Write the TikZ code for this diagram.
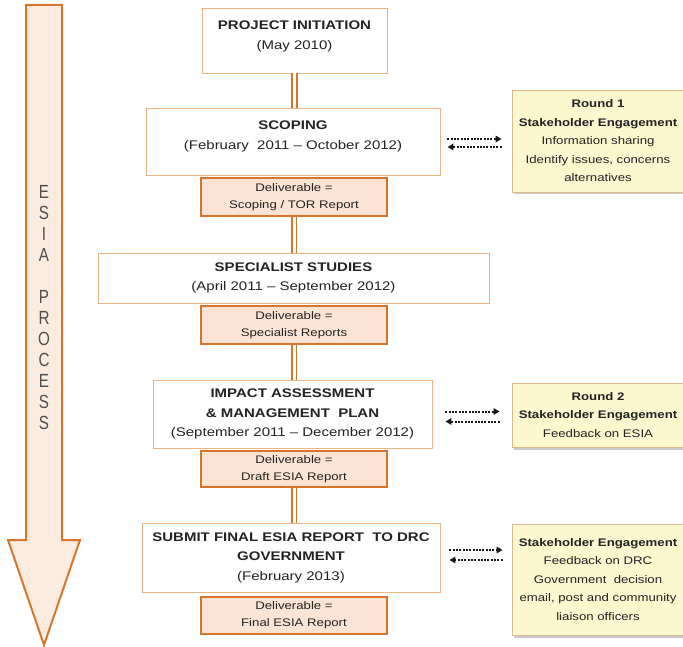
\documentclass[tikz,border=0pt]{standalone}
\usepackage{fontspec}
\setmainfont{Liberation Sans}[FakeStretch=1.2]
\newfontfamily\esiafont{Liberation Sans}[FakeStretch=0.8]
\usetikzlibrary{arrows.meta}
\usetikzlibrary{shadows}
\usetikzlibrary{positioning}
\definecolor{procorange}{RGB}{214,117,43}
\definecolor{procfill}{RGB}{252,236,224}
\definecolor{boxline}{RGB}{236,180,128}
\definecolor{delivfill}{RGB}{251,228,211}
\definecolor{roundfill}{RGB}{251,247,206}
\definecolor{roundline}{RGB}{216,186,140}
\definecolor{inktext}{RGB}{35,35,35}

\tikzset{
  stagebox/.style={draw=boxline, line width=0.9pt, fill=white, align=center, inner sep=0pt,
    text=inktext, font=\fontsize{12.5}{19.5}\selectfont},
  delivbox/.style={draw=procorange, line width=2.4pt, fill=delivfill, align=center, inner sep=0pt,
    minimum width=186, text=inktext, font=\fontsize{11}{17}\selectfont},
  roundbox/.style={draw=roundline, line width=0.8pt, fill=roundfill, align=center, inner sep=0pt,
    minimum width=172, text=inktext, font=\fontsize{11}{18.5}\selectfont,
    drop shadow={shadow xshift=2pt, shadow yshift=-2.5pt, opacity=0.35, fill=black!60}},
  stagelink/.style={draw=procorange, line width=1.8pt, double=white, double distance=3pt},
  dotlink/.style={draw=black!90, line width=2pt, dash pattern=on 2pt off 1.3pt,
    -{Triangle[length=6pt,width=6.5pt]}},
  esialetter/.style={text=inktext!80, inner sep=0pt, font=\esiafont\fontsize{19}{19}\selectfont}
}

\begin{document}
\begin{tikzpicture}[x=1pt, y=-1pt]
  \useasboundingbox (0,0) rectangle (683,647);
  \clip (0,0) rectangle (683,647);

  % Process arrow
  \draw[procorange, line width=2pt, fill=procfill] (26,5) -- (62,5) -- (62,540) -- (80,540)
    -- (44,645) -- (8,540) -- (26,540) -- cycle;
  \foreach \ch/\yy [count=\i] in {E/192,S/213,I/234,A/255,P/297,R/318,O/339,C/360,E/381,S/402,S/423}
    \node[esialetter] (esia\i) at (44,\yy) {\ch};

  % Stages
  \node[stagebox, minimum width=185, minimum height=65] (init) at (294.5,40.5)
    {\textbf{PROJECT INITIATION}\\(May 2010)\\[-8.5pt]};
  \node[stagebox, minimum width=294, minimum height=67] (scoping) at (293,141.5)
    {\textbf{SCOPING}\\(February~ 2011 -- October 2012)\\[-6.5pt]};
  \node[delivbox, minimum height=38] (deliv1) at (294,197) {Deliverable =\\Scoping / TOR Report};

  \node[stagebox, minimum width=391, minimum height=50] (special) at (293.5,278)
    {\textbf{SPECIALIST STUDIES}\\(April 2011 -- September 2012)};
  \node[delivbox, minimum height=38] (deliv2) at (294,325) {Deliverable =\\Specialist Reports};

  \node[stagebox, minimum width=279, minimum height=68] (impact) at (292.5,414)
    {\textbf{IMPACT ASSESSMENT}\\\textbf{\& MANAGEMENT~ PLAN}\\(September 2011 -- December 2012)};
  \node[delivbox, minimum height=36] (deliv3) at (294,469) {Deliverable =\\Draft ESIA Report};

  \node[stagebox, minimum width=298, minimum height=69] (submit) at (291,557.5)
    {\textbf{SUBMIT FINAL ESIA REPORT~ TO DRC}\\\textbf{GOVERNMENT}\\(February 2013)};
  \node[delivbox, minimum height=37] (deliv4) at (294,615.5) {Deliverable =\\Final ESIA Report};

  % links between stages
  \draw[stagelink] (init.south) -- (init.south |- scoping.north);
  \draw[stagelink] (deliv1.south) -- (deliv1.south |- special.north);
  \draw[stagelink] (deliv2.south) -- (deliv2.south |- impact.north);
  \draw[stagelink] (deliv3.south) -- (deliv3.south |- submit.north);

  % Stakeholder rounds
  \node[roundbox, minimum height=102] (round1) at (598,141)
    {\textbf{Round 1}\\\textbf{Stakeholder Engagement}\\Information sharing\\Identify issues, concerns\\alternatives};
  \node[roundbox, minimum height=64] (round2) at (598,415)
    {\textbf{Round 2}\\\textbf{Stakeholder Engagement}\\Feedback on ESIA};
  \node[roundbox, minimum height=111] (round3) at (598,579.5)
    {\textbf{Stakeholder Engagement}\\Feedback on DRC\\Government~ decision\\email, post and community\\liaison officers};

  % exchange arrows
  \draw[dotlink, shorten <=7pt, shorten >=10pt] ([yshift=2.5pt]scoping.east) -- ([yshift=2.5pt]scoping.east -| round1.west);
  \draw[dotlink, shorten <=10pt, shorten >=7pt] ([yshift=-5.5pt]scoping.east -| round1.west) -- ([yshift=-5.5pt]scoping.east);
  \draw[dotlink, shorten <=13pt, shorten >=12pt] ([yshift=2.5pt]impact.east) -- ([yshift=2.5pt]impact.east -| round2.west);
  \draw[dotlink, shorten <=12pt, shorten >=13pt] ([yshift=-7.5pt]impact.east -| round2.west) -- ([yshift=-7.5pt]impact.east);
  \draw[dotlink, shorten <=9pt, shorten >=9pt] ([yshift=7.5pt]submit.east) -- ([yshift=7.5pt]submit.east -| round3.west);
  \draw[dotlink, shorten <=9pt, shorten >=9pt] ([yshift=-2.5pt]submit.east -| round3.west) -- ([yshift=-2.5pt]submit.east);

\end{tikzpicture}
\end{document}
